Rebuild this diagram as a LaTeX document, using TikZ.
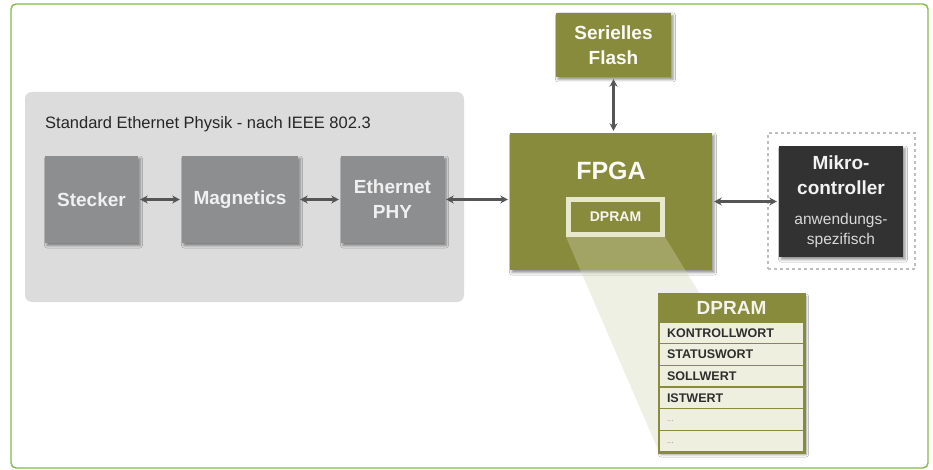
\documentclass[tikz,border=0pt]{standalone}
\usepackage{fontspec}
\setmainfont{Liberation Sans}
\usetikzlibrary{arrows.meta,shadows.blur}

\definecolor{frameGreen}{RGB}{128,188,72}
\definecolor{panelGray}{RGB}{220,220,220}
\definecolor{boxGray}{RGB}{141,142,144}
\definecolor{olive}{RGB}{136,138,60}
\definecolor{cream}{RGB}{232,232,204}
\definecolor{rowFill}{RGB}{239,239,224}
\definecolor{darkBox}{RGB}{50,50,50}
\definecolor{arrowGray}{RGB}{85,85,85}
\definecolor{beamTint}{RGB}{210,214,180}
\definecolor{dotGray}{RGB}{190,190,190}

\tikzset{
  softshadow/.style={blur shadow={shadow xshift=2pt, shadow yshift=-2.5pt,
      shadow blur radius=2.5pt, shadow opacity=45}},
  block/.style={inner sep=0pt, align=center, softshadow,
      font=\bfseries\fontsize{19}{25}\selectfont},
  graybox/.style={block, fill=boxGray, text=white!94!black},
  olivebox/.style={block, fill=olive, text=white!96!olive},
  conn/.style={draw=arrowGray, line width=2.4pt,
      {Stealth[length=7.5pt,width=8pt]}-{Stealth[length=7.5pt,width=8pt]},
      shorten <=2pt, shorten >=2pt},
  tabrow/.style={draw=olive, line width=1.2pt, fill=rowFill, inner xsep=8pt,
      inner ysep=0pt, text width=129pt, align=left, minimum height=21.67pt,
      text=black!82, font=\bfseries\fontsize{12.5}{14}\selectfont},
  dotrow/.style={tabrow, text=black!45, font=\fontsize{8}{9}\selectfont}
}

\begin{document}
\begin{tikzpicture}[x=1pt,y=-1pt]
\useasboundingbox (0,0) rectangle (933,470);

% outer frame
\draw[frameGreen, line width=1.4pt, rounded corners=5pt, fill=white]
  (11,4) rectangle (928,468);

% Ethernet physical layer group
\fill[panelGray, rounded corners=7pt] (25,92) rectangle (464,302);
\node[anchor=west, inner xsep=0pt, text=black!85, font=\fontsize{16.5}{18}\selectfont]
  (title) at (45,124) {Standard Ethernet Physik - nach IEEE 802.3};

\node[graybox, minimum width=93pt, minimum height=87pt] (stecker) at (91.5,199.5) {Stecker};
\node[graybox, minimum width=116pt, minimum height=87pt] (magnetics) at (240,199.5) {Magnetics};
\node[graybox, minimum width=103pt, minimum height=87pt] (phy) at (392.5,199.5) {Ethernet\\PHY};

% flash and FPGA
\node[olivebox, minimum width=115pt, minimum height=64pt] (flash) at (613.5,45) {Serielles\\Flash};
\node[olivebox, minimum width=202pt, minimum height=137pt] (fpga) at (611,201.5) {};
\node[text=white!96!olive, font=\bfseries\fontsize{25}{28}\selectfont]
  (fpgalabel) at (611,171) {FPGA};

% beam from the embedded DPRAM to its detail table
\coordinate (beamR) at (700,294);
\coordinate (beamB) at (659,452);
\fill[beamTint, opacity=0.35] (566,237) -- (665,237) -- (beamR) -- (beamB) -- cycle;

\node[draw=cream, line width=5pt, fill=olive, inner sep=0pt,
  minimum width=94pt, minimum height=35pt, text=white!92!olive,
  font=\bfseries\fontsize{14}{16}\selectfont] (dpsmall) at (615.5,217) {DPRAM};

% application-specific microcontroller
\node[draw=dotGray, line width=1.2pt, dash pattern=on 3pt off 3pt,
  minimum width=147pt, minimum height=136pt, inner sep=0pt] (mcuzone) at (841.5,201) {};
\node[block, fill=darkBox, minimum width=124pt, minimum height=111pt] (mcu) at (841,201.5) {};
\node[text=white!95!black, align=center, font=\bfseries\fontsize{19}{25}\selectfont]
  (mcutitle) at (841,175.5) {Mikro-\\controller};
\node[text=white!85!black, align=center, font=\fontsize{15.5}{20}\selectfont]
  (mcusub) at (841,230.5) {anwendungs-\\spezifisch};

% connections
\draw[conn] (stecker.east) -- (magnetics.west);
\draw[conn] (magnetics.east) -- (phy.west);
\draw[conn] (phy.east) -- (phy.east -| fpga.west);
\draw[conn] (flash.south) -- (flash.south |- fpga.north);
\draw[conn] (fpga.east) -- (mcu.west);

% DPRAM detail table
\fill[white, softshadow] (659,294) rectangle (804,452);
\node[fill=olive, inner sep=0pt, minimum width=145pt, minimum height=28pt,
  text=white!90!olive, font=\bfseries\fontsize{19}{22}\selectfont]
  (tabhead) at (731.5,308) {DPRAM};
\node[tabrow] (r1) at (731.5,332.83) {KONTROLLWORT};
\node[tabrow] (r2) at (731.5,354.50) {STATUSWORT};
\node[tabrow] (r3) at (731.5,376.17) {SOLLWERT};
\node[tabrow] (r4) at (731.5,397.83) {ISTWERT};
\node[dotrow] (r5) at (731.5,419.50) {\raisebox{-4pt}{...}};
\node[dotrow] (r6) at (731.5,441.17) {\raisebox{-4pt}{...}};
\draw[olive, line width=1.8pt] (tabhead.north west) rectangle (r6.south east);
\end{tikzpicture}
\end{document}
